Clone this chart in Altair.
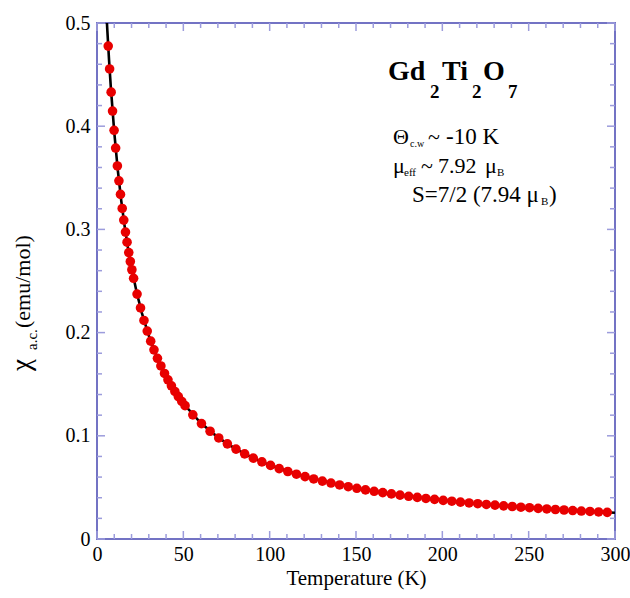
import altair as alt
import pandas as pd

# Measured data (red points)
temp_pts = [6.5, 7.3, 8.2, 9.0, 9.9, 10.8, 11.8, 12.7, 13.6, 14.6, 15.5, 16.5, 17.4, 18.4,
            19.3, 20.2, 21.2, 23.2, 25.2, 27.2, 29.1, 31.1, 33.0, 35.0, 37.0, 39.1, 41.1,
            43.1, 45.1, 47.1, 49.1, 51.0, 55.5, 60.5, 65.5, 70.5, 75.5, 80.5, 85.5, 90.5,
            95.5, 100.5, 105.5, 110.5, 115.5, 120.5, 125.5, 130.5, 135.5, 140.5, 145.5,
            150.5, 155.5, 160.5, 165.5, 170.5, 175.5, 180.5, 185.5, 190.5, 195.5, 200.5,
            205.5, 210.5, 215.5, 220.5, 225.5, 230.5, 235.5, 240.5, 245.5, 250.5, 255.5,
            260.5, 265.5, 270.5, 275.5, 280.5, 285.5, 290.5, 295.5]
chi_pts = [0.4776, 0.4555, 0.4330, 0.4147, 0.3960, 0.3788, 0.3615, 0.3471, 0.3339, 0.3203,
           0.3090, 0.2974, 0.2876, 0.2775, 0.2689, 0.2609, 0.2526, 0.2373, 0.2239, 0.2118,
           0.2015, 0.1917, 0.1833, 0.1751, 0.1677, 0.1604, 0.1542, 0.1484, 0.1430, 0.1380,
           0.1333, 0.1292, 0.1203, 0.1118, 0.1044, 0.0979, 0.0922, 0.0871, 0.0825, 0.0784,
           0.0747, 0.0713, 0.0682, 0.0654, 0.0628, 0.0604, 0.0582, 0.0561, 0.0542, 0.0524,
           0.0507, 0.0491, 0.0476, 0.0462, 0.0449, 0.0437, 0.0425, 0.0414, 0.0403, 0.0393,
           0.0384, 0.0374, 0.0366, 0.0357, 0.0349, 0.0342, 0.0335, 0.0328, 0.0321, 0.0315,
           0.0308, 0.0303, 0.0297, 0.0291, 0.0286, 0.0281, 0.0276, 0.0271, 0.0267, 0.0262,
           0.0258]

# Curie-Weiss fit curve (black line)
fit_T = [5.76, 6, 7, 8, 10, 12, 14, 16, 18, 20, 23, 26, 30, 35, 40, 45, 50, 60, 70, 80,
         90, 100, 120, 140, 160, 180, 200, 225, 250, 275, 300]
fit_chi = [0.5000, 0.4925, 0.4635, 0.4378, 0.3940, 0.3582, 0.3283, 0.3031, 0.2814, 0.2627,
           0.2388, 0.2189, 0.1970, 0.1751, 0.1576, 0.1433, 0.1313, 0.1126, 0.0985, 0.0876,
           0.0788, 0.0716, 0.0606, 0.0525, 0.0464, 0.0415, 0.0375, 0.0335, 0.0303, 0.0276,
           0.0254]

x_major = [0, 50, 100, 150, 200, 250, 300]
x_minor = [10, 20, 30, 40, 60, 70, 80, 90, 110, 120, 130, 140, 160, 170, 180, 190,
           210, 220, 230, 240, 260, 270, 280, 290]
y_major = [0, 0.1, 0.2, 0.3, 0.4, 0.5]
y_minor = [0.02, 0.04, 0.06, 0.08, 0.12, 0.14, 0.16, 0.18, 0.22, 0.24, 0.26, 0.28,
           0.32, 0.34, 0.36, 0.38, 0.42, 0.44, 0.46, 0.48]

W, H = 518, 516
FONT = "Liberation Serif"
FRAME = "#7373c4"
TICK = "#9c9cdc"

xs = alt.Scale(domain=[0, 300], nice=False, zero=False)
ys = alt.Scale(domain=[0, 0.5], nice=False, zero=False)

pts = pd.DataFrame({"T": temp_pts, "chi": chi_pts})
fit = pd.DataFrame({"T": fit_T, "chi": fit_chi})

x_axis = alt.Axis(values=x_major, title="Temperature (K)", domain=False, ticks=False,
                  grid=False, labelFont=FONT, labelFontSize=20, labelColor="black",
                  labelPadding=5, labelFlush=False, titleFont=FONT, titleFontSize=21,
                  titleFontWeight="normal", titleColor="black", titlePadding=3, format="d")
y_axis = alt.Axis(values=y_major, title=None, domain=False, ticks=False, grid=False,
                  labelFont=FONT, labelFontSize=20, labelColor="black", labelPadding=7,
                  labelFlush=False, format=".1~f")


def X(field):
    return alt.X(field, scale=xs, axis=x_axis, title="Temperature (K)")


def Y(field):
    return alt.Y(field, scale=ys, axis=y_axis)


line = alt.Chart(fit).mark_line(color="black", strokeWidth=2.6, clip=True).encode(
    x=X("T:Q"), y=Y("chi:Q"))
points = alt.Chart(pts).mark_circle(color="#e80000", opacity=1, size=92).encode(
    x=X("T:Q"), y=Y("chi:Q"))


def xticks(vals, length):
    d = pd.DataFrame({"v": vals})
    bot = alt.Chart(d).mark_rule(color=TICK, strokeWidth=1.5).encode(
        x=X("v:Q"), y=alt.value(H), y2=alt.value(H - length))
    top = alt.Chart(d).mark_rule(color=TICK, strokeWidth=1.5).encode(
        x=X("v:Q"), y=alt.value(0), y2=alt.value(length))
    return [bot, top]


def yticks(vals, length):
    d = pd.DataFrame({"v": vals})
    left = alt.Chart(d).mark_rule(color=TICK, strokeWidth=1.5).encode(
        y=Y("v:Q"), x=alt.value(0), x2=alt.value(length))
    right = alt.Chart(d).mark_rule(color=TICK, strokeWidth=1.5).encode(
        y=Y("v:Q"), x=alt.value(W), x2=alt.value(W - length))
    return [left, right]


OX, OY = 97, 23


def txt(s, x, y, size, bold=False, angle=None):
    kw = dict(align="left", baseline="alphabetic", font=FONT, fontSize=size,
              fontWeight="bold" if bold else "normal", color="black")
    if angle is not None:
        kw["angle"] = angle
    return alt.Chart(pd.DataFrame({"t": [s]})).mark_text(**kw).encode(
        x=alt.value(x - OX), y=alt.value(y - OY), text="t:N")


labels = [
    txt("Gd", 388, 80, 28, True),
    txt("2", 430, 98, 19, True),
    txt("Ti", 442, 80, 28, True),
    txt("2", 472, 98, 19, True),
    txt("O", 483, 80, 28, True),
    txt("7", 508, 98, 19, True),
    # line 1
    txt("Θ", 393, 144, 22),
    txt("c.w", 410, 147, 10),
    txt("~", 428, 144, 22),
    txt("-10 K", 446, 144, 23),
    # line 2
    txt("μ", 393, 173, 22),
    txt("eff", 404, 176, 11),
    txt("~", 421, 173, 22),
    txt("7.92", 438, 173, 22),
    txt("μ", 485, 173, 22),
    txt("B", 497, 176, 11),
    # line 3
    txt("S=7/2 (7.94 μ", 412, 202, 23),
    txt("B", 541, 205, 11),
    txt(")", 549, 202, 23),
    # y-axis title (rotated)
    txt("χ", 30, 371, 27, angle=270),
    txt("a.c.", 37, 350, 15, angle=270),
    txt("(emu/mol)", 30, 328, 22, angle=270),
]

layers = xticks(x_major, 8) + xticks(x_minor, 5) + yticks(y_major, 8) + yticks(y_minor, 5)
layers = [line] + layers + [points] + labels

chart = alt.layer(*layers).properties(
    width=W, height=H,
    autosize=alt.AutoSizeParams(type="none"),
    padding={"left": OX, "top": OY, "right": 630 - OX - W, "bottom": 598 - OY - H},
).configure(font=FONT).configure_view(stroke=FRAME, strokeWidth=2).configure_axis(
    labelFont=FONT, titleFont=FONT
)

chart.save("out.html", embed_options={"renderer": "svg", "actions": False})
